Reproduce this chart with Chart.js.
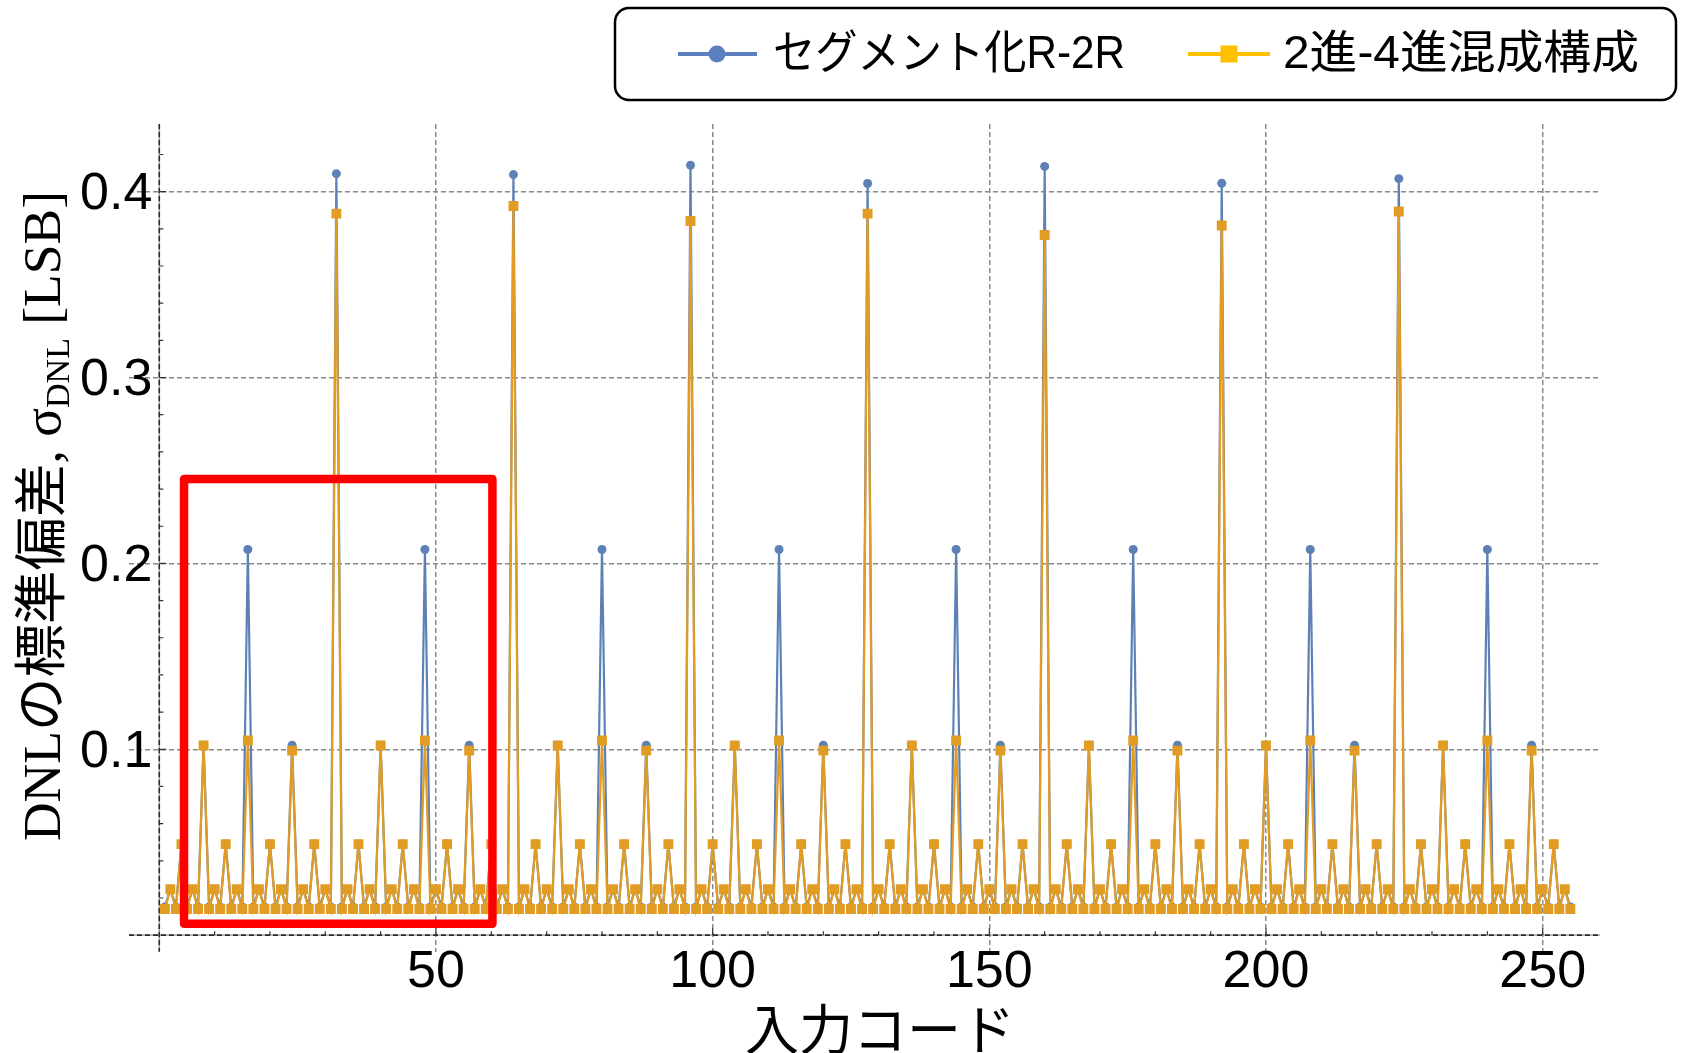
<!DOCTYPE html>
<html>
<head>
<meta charset="utf-8">
<script src="https://cdn.jsdelivr.net/npm/chart.js@4.4.1/dist/chart.umd.min.js"></script>
<style>
  html, body { margin: 0; padding: 0; background: #ffffff; }
  #wrap { width: 1683px; height: 1053px; position: relative; }
</style>
</head>
<body>
<div id="wrap"><canvas id="c" width="1683" height="1053"></canvas></div>
<script>
// Input codes 1..255
const codes = [
  1,2,3,4,5,6,7,8,9,10,11,12,13,14,15,16,
  17,18,19,20,21,22,23,24,25,26,27,28,29,30,31,32,
  33,34,35,36,37,38,39,40,41,42,43,44,45,46,47,48,
  49,50,51,52,53,54,55,56,57,58,59,60,61,62,63,64,
  65,66,67,68,69,70,71,72,73,74,75,76,77,78,79,80,
  81,82,83,84,85,86,87,88,89,90,91,92,93,94,95,96,
  97,98,99,100,101,102,103,104,105,106,107,108,109,110,111,112,
  113,114,115,116,117,118,119,120,121,122,123,124,125,126,127,128,
  129,130,131,132,133,134,135,136,137,138,139,140,141,142,143,144,
  145,146,147,148,149,150,151,152,153,154,155,156,157,158,159,160,
  161,162,163,164,165,166,167,168,169,170,171,172,173,174,175,176,
  177,178,179,180,181,182,183,184,185,186,187,188,189,190,191,192,
  193,194,195,196,197,198,199,200,201,202,203,204,205,206,207,208,
  209,210,211,212,213,214,215,216,217,218,219,220,221,222,223,224,
  225,226,227,228,229,230,231,232,233,234,235,236,237,238,239,240,
  241,242,243,244,245,246,247,248,249,250,251,252,253,254,255
];

// σ_DNL [LSB], segmented R-2R
const segmentedR2R = [
  0.0152,0.0247,0.0152,0.049,0.0152,0.0247,0.0152,0.1022,0.0152,0.0247,0.0152,0.049,0.0152,0.0247,0.0152,0.2075,
  0.0152,0.0247,0.0152,0.049,0.0152,0.0247,0.0152,0.1022,0.0152,0.0247,0.0152,0.049,0.0152,0.0247,0.0152,0.4097,
  0.0152,0.0247,0.0152,0.049,0.0152,0.0247,0.0152,0.1022,0.0152,0.0247,0.0152,0.049,0.0152,0.0247,0.0152,0.2075,
  0.0152,0.0247,0.0152,0.049,0.0152,0.0247,0.0152,0.1022,0.0152,0.0247,0.0152,0.049,0.0152,0.0247,0.0152,0.4092,
  0.0152,0.0247,0.0152,0.049,0.0152,0.0247,0.0152,0.1022,0.0152,0.0247,0.0152,0.049,0.0152,0.0247,0.0152,0.2075,
  0.0152,0.0247,0.0152,0.049,0.0152,0.0247,0.0152,0.1022,0.0152,0.0247,0.0152,0.049,0.0152,0.0247,0.0152,0.4142,
  0.0152,0.0247,0.0152,0.049,0.0152,0.0247,0.0152,0.1022,0.0152,0.0247,0.0152,0.049,0.0152,0.0247,0.0152,0.2075,
  0.0152,0.0247,0.0152,0.049,0.0152,0.0247,0.0152,0.1022,0.0152,0.0247,0.0152,0.049,0.0152,0.0247,0.0152,0.4044,
  0.0152,0.0247,0.0152,0.049,0.0152,0.0247,0.0152,0.1022,0.0152,0.0247,0.0152,0.049,0.0152,0.0247,0.0152,0.2075,
  0.0152,0.0247,0.0152,0.049,0.0152,0.0247,0.0152,0.1022,0.0152,0.0247,0.0152,0.049,0.0152,0.0247,0.0152,0.4136,
  0.0152,0.0247,0.0152,0.049,0.0152,0.0247,0.0152,0.1022,0.0152,0.0247,0.0152,0.049,0.0152,0.0247,0.0152,0.2075,
  0.0152,0.0247,0.0152,0.049,0.0152,0.0247,0.0152,0.1022,0.0152,0.0247,0.0152,0.049,0.0152,0.0247,0.0152,0.4045,
  0.0152,0.0247,0.0152,0.049,0.0152,0.0247,0.0152,0.1022,0.0152,0.0247,0.0152,0.049,0.0152,0.0247,0.0152,0.2075,
  0.0152,0.0247,0.0152,0.049,0.0152,0.0247,0.0152,0.1022,0.0152,0.0247,0.0152,0.049,0.0152,0.0247,0.0152,0.4070,
  0.0152,0.0247,0.0152,0.049,0.0152,0.0247,0.0152,0.1022,0.0152,0.0247,0.0152,0.049,0.0152,0.0247,0.0152,0.2075,
  0.0152,0.0247,0.0152,0.049,0.0152,0.0247,0.0152,0.1022,0.0152,0.0247,0.0152,0.049,0.0152,0.0247,0.0152
];

// σ_DNL [LSB], binary-quaternary hybrid
const binaryQuaternary = [
  0.0141,0.0247,0.0141,0.049,0.0141,0.0247,0.0141,0.1020,0.0141,0.0247,0.0141,0.049,0.0141,0.0247,0.0141,0.1047,
  0.0141,0.0247,0.0141,0.049,0.0141,0.0247,0.0141,0.0993,0.0141,0.0247,0.0141,0.049,0.0141,0.0247,0.0141,0.3882,
  0.0141,0.0247,0.0141,0.049,0.0141,0.0247,0.0141,0.1020,0.0141,0.0247,0.0141,0.049,0.0141,0.0247,0.0141,0.1047,
  0.0141,0.0247,0.0141,0.049,0.0141,0.0247,0.0141,0.0993,0.0141,0.0247,0.0141,0.049,0.0141,0.0247,0.0141,0.3923,
  0.0141,0.0247,0.0141,0.049,0.0141,0.0247,0.0141,0.1020,0.0141,0.0247,0.0141,0.049,0.0141,0.0247,0.0141,0.1047,
  0.0141,0.0247,0.0141,0.049,0.0141,0.0247,0.0141,0.0993,0.0141,0.0247,0.0141,0.049,0.0141,0.0247,0.0141,0.3842,
  0.0141,0.0247,0.0141,0.049,0.0141,0.0247,0.0141,0.1020,0.0141,0.0247,0.0141,0.049,0.0141,0.0247,0.0141,0.1047,
  0.0141,0.0247,0.0141,0.049,0.0141,0.0247,0.0141,0.0993,0.0141,0.0247,0.0141,0.049,0.0141,0.0247,0.0141,0.3882,
  0.0141,0.0247,0.0141,0.049,0.0141,0.0247,0.0141,0.1020,0.0141,0.0247,0.0141,0.049,0.0141,0.0247,0.0141,0.1047,
  0.0141,0.0247,0.0141,0.049,0.0141,0.0247,0.0141,0.0993,0.0141,0.0247,0.0141,0.049,0.0141,0.0247,0.0141,0.3767,
  0.0141,0.0247,0.0141,0.049,0.0141,0.0247,0.0141,0.1020,0.0141,0.0247,0.0141,0.049,0.0141,0.0247,0.0141,0.1047,
  0.0141,0.0247,0.0141,0.049,0.0141,0.0247,0.0141,0.0993,0.0141,0.0247,0.0141,0.049,0.0141,0.0247,0.0141,0.3818,
  0.0141,0.0247,0.0141,0.049,0.0141,0.0247,0.0141,0.1020,0.0141,0.0247,0.0141,0.049,0.0141,0.0247,0.0141,0.1047,
  0.0141,0.0247,0.0141,0.049,0.0141,0.0247,0.0141,0.0993,0.0141,0.0247,0.0141,0.049,0.0141,0.0247,0.0141,0.3893,
  0.0141,0.0247,0.0141,0.049,0.0141,0.0247,0.0141,0.1020,0.0141,0.0247,0.0141,0.049,0.0141,0.0247,0.0141,0.1047,
  0.0141,0.0247,0.0141,0.049,0.0141,0.0247,0.0141,0.0993,0.0141,0.0247,0.0141,0.049,0.0141,0.0247,0.0141
];

const seriesNames = ['セグメント化R-2R', '2進-4進混成構成'];
const xTickValues = [50, 100, 150, 200, 250];
const xTickLabels = ['50', '100', '150', '200', '250'];
const yTickValues = [0.1, 0.2, 0.3, 0.4];
const yTickLabels = ['0.1', '0.2', '0.3', '0.4'];
const xMinorTicks = [10,20,30,40,50,60,70,80,90,100,110,120,130,140,150,160,170,180,190,200,210,220,230,240,250];
const yMinorTicks = [0.02,0.04,0.06,0.08,0.1,0.12,0.14,0.16,0.18,0.2,0.22,0.24,0.26,0.28,0.3,0.32,0.34,0.36,0.38,0.4,0.42];
const xTitle = '入力コード';
// highlighted range: codes 4.5–60.2, σ 0.006–0.245
const boxX = [4.47, 60.2];
const boxY = [0.0061, 0.2454];

const BLUE = '#5e81b5';
const ORANGE = '#e19c24';
const LEGEND_BLUE = '#5b80bd';
const LEGEND_ORANGE = '#ffc000';

const SANS = "'Liberation Sans', Arial, 'Noto Sans CJK JP', sans-serif";
const SERIF = "'Liberation Serif', 'Noto Sans CJK JP', serif";

function pts(ys) { return codes.map((c, i) => ({ x: c, y: ys[i] })); }

const decor = {
  id: 'decor',
  beforeDatasetsDraw(chart) {
    const c = chart.ctx, a = chart.chartArea;
    const sx = chart.scales.x, sy = chart.scales.y;
    const x0 = sx.getPixelForValue(0), y0 = sy.getPixelForValue(0);
    c.save();
    const axisPath = () => {
      c.beginPath();
      c.moveTo(a.left, y0); c.lineTo(a.right, y0);
      c.moveTo(x0, a.top); c.lineTo(x0, a.bottom);
      c.stroke();
    };
    c.lineWidth = 1.4; c.strokeStyle = '#9c9c9c'; c.setLineDash([]);
    axisPath();
    c.lineWidth = 1.6; c.strokeStyle = '#2b2b2b'; c.setLineDash([5, 3]);
    axisPath();
    c.setLineDash([]);
    c.strokeStyle = '#333333'; c.lineWidth = 1.2;
    c.beginPath();
    xMinorTicks.forEach(v => {
      const x = sx.getPixelForValue(v);
      const len = xTickValues.includes(v) ? 7 : 4;
      c.moveTo(x, y0); c.lineTo(x, y0 - len);
    });
    yMinorTicks.forEach(v => {
      const y = sy.getPixelForValue(v);
      const len = yTickValues.some(t => Math.abs(t - v) < 1e-9) ? 7 : 4;
      c.moveTo(x0, y); c.lineTo(x0 + len, y);
    });
    c.stroke();
    c.restore();
  },
  afterDatasetsDraw(chart) {
    const c = chart.ctx;
    const sx = chart.scales.x, sy = chart.scales.y;
    const l = sx.getPixelForValue(boxX[0]), r = sx.getPixelForValue(boxX[1]);
    const t = sy.getPixelForValue(boxY[1]), b = sy.getPixelForValue(boxY[0]);
    c.save();
    c.strokeStyle = '#ff0000';
    c.lineWidth = 8.5;
    c.lineJoin = 'round';
    c.strokeRect(l, t, r - l, b - t);
    c.restore();
  },
  afterDraw(chart) {
    const c = chart.ctx;
    const sx = chart.scales.x, sy = chart.scales.y;
    const x0 = sx.getPixelForValue(0), y0 = sy.getPixelForValue(0);
    c.save();
    c.fillStyle = '#000000';
    // tick labels
    c.font = '52px ' + SANS;
    c.textBaseline = 'alphabetic';
    c.textAlign = 'right';
    yTickValues.forEach((v, i) => {
      c.fillText(yTickLabels[i], x0 - 7, sy.getPixelForValue(v) + 17.6);
    });
    c.textAlign = 'center';
    xTickValues.forEach((v, i) => {
      c.fillText(xTickLabels[i], sx.getPixelForValue(v), y0 + 52);
    });
    // x title
    c.font = '54px ' + SERIF;
    c.fillText(xTitle, 880, 1050);
    // y title with subscript
    const segs = [
      { t: 'DNLの標準偏差, σ', f: '53.5px ' + SERIF, dy: 0 },
      { t: 'DNL', f: '34px ' + SERIF, dy: 9 },
      { t: ' [LSB]', f: '53.5px ' + SERIF, dy: 0 }
    ];
    let total = 0;
    segs.forEach(s => { c.font = s.f; s.w = c.measureText(s.t).width; total += s.w; });
    c.translate(43, 516);
    c.rotate(-Math.PI / 2);
    c.textAlign = 'left';
    let cx = -total / 2;
    segs.forEach(s => { c.font = s.f; c.fillText(s.t, cx, 17 + s.dy); cx += s.w; });
    c.restore();

    // legend box
    c.save();
    const L = 615, T = 8, R = 1676, B = 100, rad = 14;
    c.beginPath();
    c.moveTo(L + rad, T);
    c.arcTo(R, T, R, B, rad);
    c.arcTo(R, B, L, B, rad);
    c.arcTo(L, B, L, T, rad);
    c.arcTo(L, T, R, T, rad);
    c.closePath();
    c.fillStyle = '#ffffff';
    c.fill();
    c.lineWidth = 2.5;
    c.strokeStyle = '#000000';
    c.stroke();
    const ly = 54;
    // entry 1
    c.lineWidth = 4;
    c.strokeStyle = LEGEND_BLUE;
    c.beginPath(); c.moveTo(678, ly); c.lineTo(757, ly); c.stroke();
    c.fillStyle = LEGEND_BLUE;
    c.beginPath(); c.arc(717, ly, 8.5, 0, Math.PI * 2); c.fill();
    // entry 2
    c.strokeStyle = LEGEND_ORANGE;
    c.beginPath(); c.moveTo(1188, ly); c.lineTo(1270, ly); c.stroke();
    c.fillStyle = LEGEND_ORANGE;
    c.fillRect(1229 - 8.5, ly - 8.5, 17, 17);
    c.fillStyle = '#000000';
    c.font = '46px ' + SANS;
    c.textBaseline = 'middle';
    c.textAlign = 'left';
    const fit = (txt, x, w) => {
      const m = c.measureText(txt).width;
      c.save(); c.translate(x, ly + 1); c.scale(w / m, 1); c.fillText(txt, 0, 0); c.restore();
    };
    fit(chart.data.datasets[1].label, 773, 352);
    fit(chart.data.datasets[0].label, 1283, 356);
    c.restore();
  }
};

new Chart(document.getElementById('c'), {
  type: 'line',
  data: {
    datasets: [
      {
        label: seriesNames[1],
        data: pts(binaryQuaternary),
        borderColor: ORANGE,
        backgroundColor: ORANGE,
        borderWidth: 2.2,
        pointStyle: 'rect',
        pointRadius: 7,
        pointBorderWidth: 0,
        tension: 0,
        order: 0
      },
      {
        label: seriesNames[0],
        data: pts(segmentedR2R),
        borderColor: BLUE,
        backgroundColor: BLUE,
        borderWidth: 2.2,
        pointStyle: 'circle',
        pointRadius: 4.5,
        pointBorderWidth: 0,
        tension: 0,
        order: 1
      }
    ]
  },
  options: {
    responsive: false,
    animation: false,
    devicePixelRatio: 1,
    layout: { padding: { left: 129, right: 83, top: 124, bottom: 101.3 } },
    plugins: { legend: { display: false }, tooltip: { enabled: false }, title: { display: false } },
    scales: {
      x: {
        type: 'linear',
        min: -5.476,
        max: 260.36,
        afterBuildTicks: s => { s.ticks = xTickValues.map(v => ({ value: v })); },
        afterFit: s => { s.height = 0; },
        ticks: { display: false },
        grid: { color: '#8a8a8a', lineWidth: 1.5, drawTicks: false },
        border: { display: false, dash: [5, 3] }
      },
      y: {
        type: 'linear',
        min: -0.0089,
        max: 0.4364,
        afterBuildTicks: s => { s.ticks = yTickValues.map(v => ({ value: v })); },
        afterFit: s => { s.width = 0; },
        ticks: { display: false },
        grid: { color: '#8a8a8a', lineWidth: 1.5, drawTicks: false },
        border: { display: false, dash: [5, 3] }
      }
    }
  },
  plugins: [decor]
});
</script>
</body>
</html>
